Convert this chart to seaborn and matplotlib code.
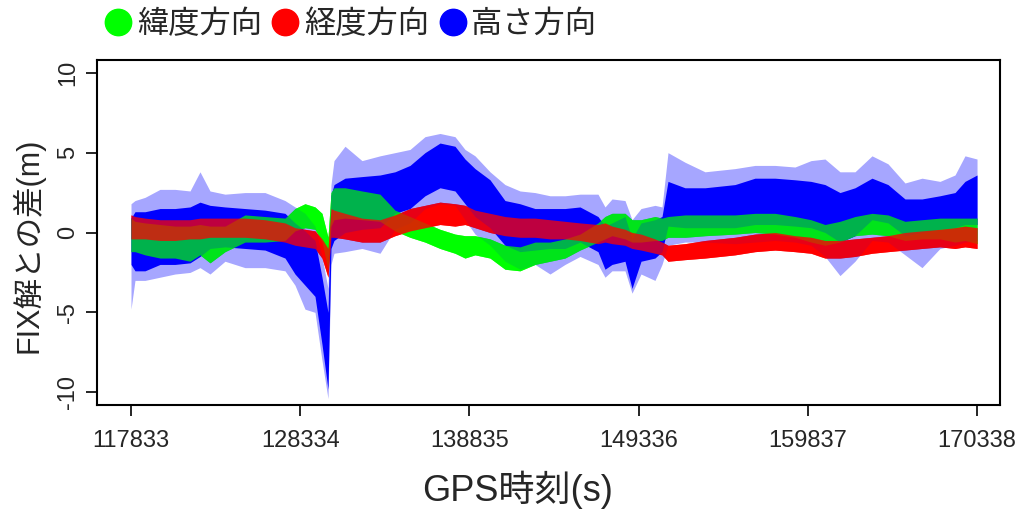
import numpy as np
import pandas as pd
import matplotlib
matplotlib.use('Agg')
import matplotlib.pyplot as plt
import seaborn as sns
from matplotlib.lines import Line2D

# GPS time of knots (s), read along the x axis of the picture
t = [117833, 118081, 118702, 119633, 120564, 121495, 122115, 122736, 123667, 124908,
     126149, 127390, 128011, 128631, 129252, 129686, 130059, 130245, 130431, 131114,
     132169, 133286, 134217, 135148, 136079, 137010, 137940, 138561, 139182, 140113,
     141043, 141974, 142905, 143836, 144767, 145698, 146815, 147249, 147684, 148490,
     148925, 149484, 150352, 150787, 151159, 152214, 153455, 155317, 156558, 157799,
     159040, 160033, 160902, 161833, 162764, 163819, 164812, 165867, 166922, 168039,
     168970, 169590, 170338]

# latitude direction (green): dense band lower / upper edge (m)
lat_lo = [-1.2, -1.2, -1.4, -1.6, -1.6, -1.8, -1.4, -1.9, -1.2, -0.6,
          -0.6, -0.5, 0.1, 0.3, 0.2, -0.6, -2.3, 0.4, 0.8, 0.9,
          0.8, 0.7, 0.1, -0.3, -0.6, -1.0, -1.3, -1.6, -1.4, -1.6,
          -2.3, -2.4, -2.0, -1.8, -1.6, -1.1, -0.6, -0.4, -0.2, -0.4,
          -0.6, -0.6, -0.5, -0.5, -0.3, -0.3, -0.2, -0.1, 0.0, -0.1,
          -0.3, -0.6, -0.8, -0.6, -0.2, -0.1, -0.2, -0.5, -0.4, -0.4,
          -0.6, -0.5, -0.7]
lat_hi = [0.9, 0.7, 0.6, 0.5, 0.4, 0.4, 0.5, 0.4, 0.4, 1.1,
          1.0, 0.9, 1.5, 1.8, 1.6, 1.2, -0.3, 2.5, 2.8, 2.8,
          2.6, 2.4, 1.4, 1.0, 0.6, 0.2, -0.1, -0.2, -0.2, -0.4,
          -0.8, -0.9, -0.6, -0.6, -0.4, -0.1, 0.6, 1.0, 1.2, 1.2,
          0.8, 0.8, 1.0, 0.9, 1.0, 1.1, 1.1, 1.1, 1.2, 1.2,
          1.0, 0.8, 0.5, 0.7, 1.0, 1.2, 1.1, 0.7, 0.8, 0.9,
          0.9, 0.9, 0.9]

# longitude direction (red)
lon_lo = [-0.4, -0.4, -0.4, -0.5, -0.5, -0.4, -0.4, -0.3, -0.3, -0.3,
          -0.4, -0.6, -0.8, -0.9, -1.0, -1.6, -2.8, -0.3, -0.3, -0.4,
          -0.6, -0.6, -0.2, 0.1, 0.3, 0.5, 0.4, 0.5, 0.3, 0.0,
          -0.2, -0.3, -0.3, -0.4, -0.4, -0.5, -0.7, -0.6, -0.7, -0.8,
          -1.0, -1.1, -1.3, -1.4, -1.8, -1.7, -1.6, -1.4, -1.2, -1.1,
          -1.2, -1.3, -1.6, -1.6, -1.5, -1.3, -1.2, -1.1, -1.0, -0.9,
          -1.0, -0.9, -1.0]
lon_hi = [1.1, 1.0, 0.9, 0.8, 0.8, 0.8, 0.9, 0.9, 0.9, 0.9,
          0.8, 0.6, 0.3, 0.2, 0.1, -0.4, -1.0, 1.5, 1.4, 1.2,
          0.9, 0.8, 1.1, 1.5, 1.7, 1.9, 1.8, 1.7, 1.4, 1.2,
          1.0, 0.9, 0.9, 0.8, 0.7, 0.6, 0.5, 0.6, 0.4, 0.2,
          0.0, -0.1, -0.4, -0.6, -0.8, -0.7, -0.5, -0.3, -0.1, 0.0,
          -0.2, -0.3, -0.5, -0.5, -0.4, -0.3, -0.2, 0.0, 0.1, 0.2,
          0.3, 0.4, 0.3]

# height direction (blue): dense band and the sparse outer spread
hgt_lo = [-2.0, -2.4, -2.4, -2.0, -2.0, -1.9, -1.5, -1.0, -0.9, -1.0,
          -1.1, -1.6, -2.6, -3.3, -4.0, -7.0, -9.8, -1.0, -0.5, 0.0,
          0.2, 0.3, 1.2, 1.5, 2.3, 2.8, 2.6, 1.8, 1.0, 0.3,
          -0.8, -1.2, -1.1, -1.0, -1.0, -0.6, -1.2, -2.3, -2.0, -1.8,
          -3.5, -1.8, -1.6, -1.2, 0.4, 0.3, 0.3, 0.3, 0.5, 0.5,
          0.4, 0.3, 0.0, -0.6, -0.2, 0.8, 0.6, -0.2, 0.0, 0.2,
          0.3, 0.5, 0.5]
hgt_hi = [0.9, 1.3, 1.3, 1.5, 1.5, 1.6, 1.9, 1.7, 1.6, 1.5,
          1.4, 1.2, 0.6, 0.1, -0.5, -2.8, -5.0, 2.3, 3.0, 3.4,
          3.5, 3.6, 3.8, 4.2, 5.0, 5.6, 5.4, 4.6, 4.0, 3.3,
          2.0, 1.8, 1.5, 1.5, 1.5, 1.6, 1.0, 0.4, 0.6, 1.0,
          -0.4, 0.6, 0.8, 1.0, 3.2, 2.8, 2.8, 3.0, 3.4, 3.4,
          3.3, 3.2, 3.0, 2.5, 2.8, 3.4, 3.0, 2.1, 2.1, 2.3,
          2.5, 3.2, 3.6]
hgt_min = [-4.8, -3.0, -3.0, -2.8, -2.6, -2.5, -2.2, -2.6, -1.8, -2.2,
           -2.2, -2.4, -3.3, -4.8, -5.0, -8.0, -10.4, -2.0, -1.3, -1.2,
           -1.0, -1.3, 0.2, 0.6, 1.5, 1.8, 1.7, 0.8, -0.1, -0.8,
           -1.8, -2.3, -2.0, -2.6, -2.0, -1.5, -2.0, -2.8, -2.4, -2.4,
           -3.8, -2.6, -3.0, -2.0, -0.8, -0.6, -0.6, -0.7, -0.6, -0.5,
           -0.6, -0.8, -1.5, -2.7, -1.8, -0.5, -0.6, -1.4, -2.2, -1.0,
           -0.8, -0.6, -0.5]
hgt_max = [1.8, 2.0, 2.2, 2.7, 2.7, 2.6, 3.8, 2.6, 2.4, 2.5,
           2.5, 2.0, 1.6, 1.2, 0.4, -1.5, -3.5, 3.0, 4.5, 5.4,
           4.5, 4.8, 5.0, 5.2, 6.0, 6.2, 6.0, 5.2, 4.8, 3.8,
           3.0, 2.6, 2.5, 2.3, 2.3, 2.4, 2.4, 1.6, 2.1, 2.0,
           0.8, 1.5, 1.7, 1.6, 5.0, 4.4, 3.8, 4.0, 4.2, 4.2,
           4.1, 4.5, 4.6, 3.8, 3.8, 4.8, 4.3, 3.1, 3.4, 3.2,
           3.6, 4.8, 4.6]

labels = ['緯度方向', '経度方向', '高さ方向']
colors = ['#00ff00', '#ff0000', '#0000ff']
x_ticks = [117833, 128334, 138835, 149336, 159837, 170338]
y_ticks = [-10, -5, 0, 5, 10]

df = pd.DataFrame({'t': t, 'lat_lo': lat_lo, 'lat_hi': lat_hi,
                   'lon_lo': lon_lo, 'lon_hi': lon_hi,
                   'hgt_lo': hgt_lo, 'hgt_hi': hgt_hi,
                   'hgt_min': hgt_min, 'hgt_max': hgt_max})

sns.set_style('ticks')
plt.rcParams['font.family'] = ['Liberation Sans', 'Noto Sans CJK JP']

fig = plt.figure(figsize=(10.21, 5.09), dpi=100)
ax = fig.add_axes([97 / 1021, 104 / 509, 903 / 1021, 345 / 509])

# solid green / red, the blue spread, then the blue dense band
ax.fill_between(df['t'], df['lat_lo'], df['lat_hi'], color=colors[0], lw=0)
ax.fill_between(df['t'], df['lon_lo'], df['lon_hi'], color=colors[1], lw=0)
ax.fill_between(df['t'], df['hgt_min'], df['hgt_max'], color=colors[2], lw=0, alpha=0.35)
ax.fill_between(df['t'], df['hgt_lo'], df['hgt_hi'], color=colors[2], lw=0)
# green / red points still show through the blue cloud
ax.fill_between(df['t'], df['lat_lo'], df['lat_hi'], color=colors[0], lw=0, alpha=0.7)
ax.fill_between(df['t'], df['lon_lo'], df['lon_hi'], color=colors[1], lw=0, alpha=0.75)

ax.set_xlim(115723, 171763)
ax.set_ylim(-10.8, 10.8)
ax.set_xticks(x_ticks)
ax.set_xticklabels([str(v) for v in x_ticks])
ax.set_yticks(y_ticks)
ax.set_yticklabels([str(v) for v in y_ticks], rotation=90, va='center')
ax.tick_params(axis='both', direction='out', length=8, width=1.2, color='black',
               labelsize=17)
ax.tick_params(axis='x', pad=10)
ax.tick_params(axis='y', pad=5)
for s in ax.spines.values():
    s.set_visible(True)
    s.set_color('black')
    s.set_linewidth(1.5)

ax.set_xlabel('GPS時刻(s)', fontsize=26)
ax.xaxis.set_label_coords(0.466, -0.19)
ax.set_ylabel('FIX解との差(m)', fontsize=22)
ax.yaxis.set_label_coords(-0.058, 0.464)

handles = [Line2D([], [], marker='o', ls='', color=c, markersize=19) for c in colors]
fig.legend(handles, labels, loc='center left', bbox_to_anchor=(90 / 1021, 1 - 25 / 509),
           ncol=3, frameon=False, fontsize=22.5, handletextpad=0.1,
           columnspacing=0.25, handlelength=1.0, borderaxespad=0)

fig.savefig('out.png', dpi=100)
